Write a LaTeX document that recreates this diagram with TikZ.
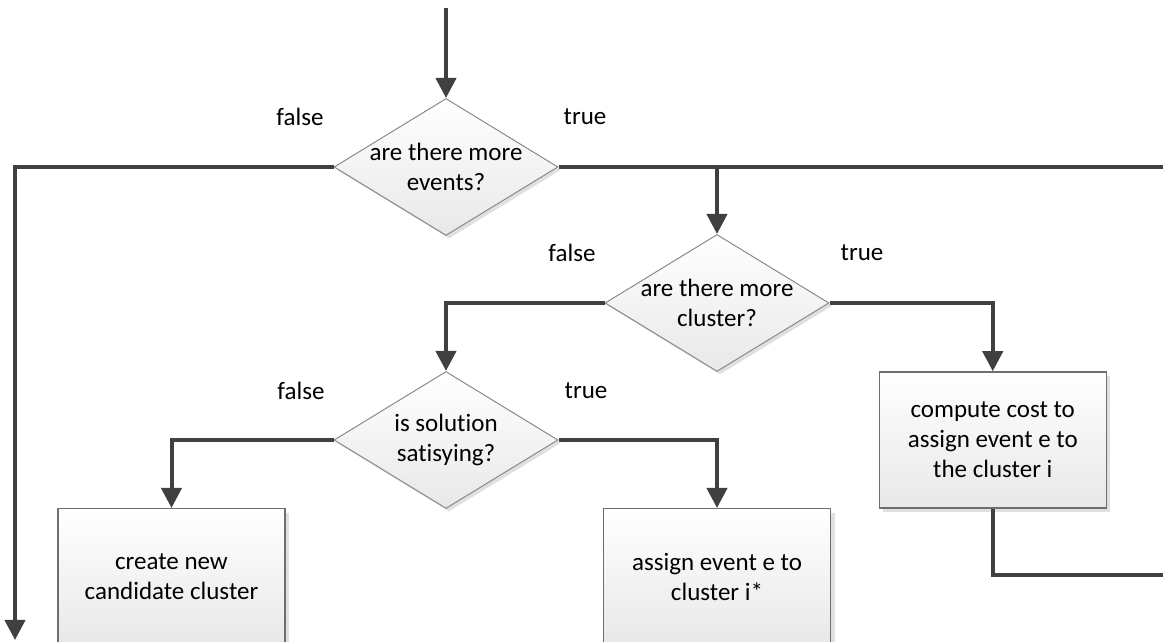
\documentclass[tikz,border=0pt]{standalone}
\usepackage{fontspec}
\setmainfont{Carlito}[Ligatures=NoCommon]
\usetikzlibrary{arrows.meta,positioning,shapes.geometric,shadows}
\definecolor{wire}{HTML}{404040}
\definecolor{rim}{HTML}{6E6E6E}
\definecolor{edge}{HTML}{8A8A8A}
\definecolor{shade}{HTML}{E8E8E8}

\begin{document}
\begin{tikzpicture}[x=1pt,y=1pt,>={Triangle[width=20pt,length=20pt]},font=\fontsize{25}{30}\selectfont,
  decision/.style={diamond,draw=edge,line width=1pt,top color=white,bottom color=shade,minimum width=224pt,minimum height=137pt,inner sep=0pt,drop shadow={shadow xshift=3pt,shadow yshift=-3pt,fill=black!12,opacity=1}},
  qtext/.style={align=center,inner sep=0pt},
  action/.style={rectangle,draw=rim,line width=1.5pt,top color=white,bottom color=shade,minimum width=227pt,minimum height=136pt,inner sep=0pt,align=center,drop shadow={shadow xshift=4pt,shadow yshift=-4pt,fill=black!12,opacity=1}},
  flow/.style={->,draw=wire,line width=4pt},
  wireline/.style={draw=wire,line width=4pt},
  lbl/.style={inner sep=0pt}]
\clip (0,0) rectangle (1163,642);
\coordinate (entry) at (446,634);
\node[decision,label={[qtext,name=q1t]center:are there more\\events?}] (q1) at (446,475) {};
\node[decision,label={[qtext,name=q2t]center:are there more\\cluster?}] (q2) at (717,339) {};
\node[decision,below=135pt of q1,label={[qtext,name=q3t]center:is solution\\satisying?}] (q3) {};
\node[action,right=320pt of q3] (cost) {compute cost to\\assign event e to\\the cluster i};
\node[action,below=136pt of q2] (assign) {assign event e to\\cluster i*};
\node[action,left=317pt of assign] (create) {create new\\candidate cluster};
% branch labels
\node[lbl,xshift=-146pt,yshift=50pt] (f1) at (q1) {false};
\node[lbl,xshift=139pt,yshift=50pt] (t1) at (q1) {true};
\node[lbl,xshift=-145pt,yshift=50pt] (f2) at (q2) {false};
\node[lbl,xshift=145pt,yshift=50pt] (t2) at (q2) {true};
\node[lbl,xshift=-145pt,yshift=49pt] (f3) at (q3) {false};
\node[lbl,xshift=140pt,yshift=49pt] (t3) at (q3) {true};
% loose ends
\coordinate (done) at (15,2);
\coordinate (outA) at (1175,475);
\coordinate (outB) at (1175,67);
\draw[flow] (entry) -- (q1.north);
\draw[flow] (q1.west) -| (done);
\draw[wireline] (q1.east) -- (outA);
\draw[flow] (q2.north |- q1.east) -- (q2.north);
\draw[flow] (q2.west) -| (q3.north);
\draw[flow] (q2.east) -| (cost.north);
\draw[flow] (q3.west) -| (create.north);
\draw[flow] (q3.east) -| (assign.north);
\draw[wireline] (cost.south) |- (outB);
\end{tikzpicture}
\end{document}
